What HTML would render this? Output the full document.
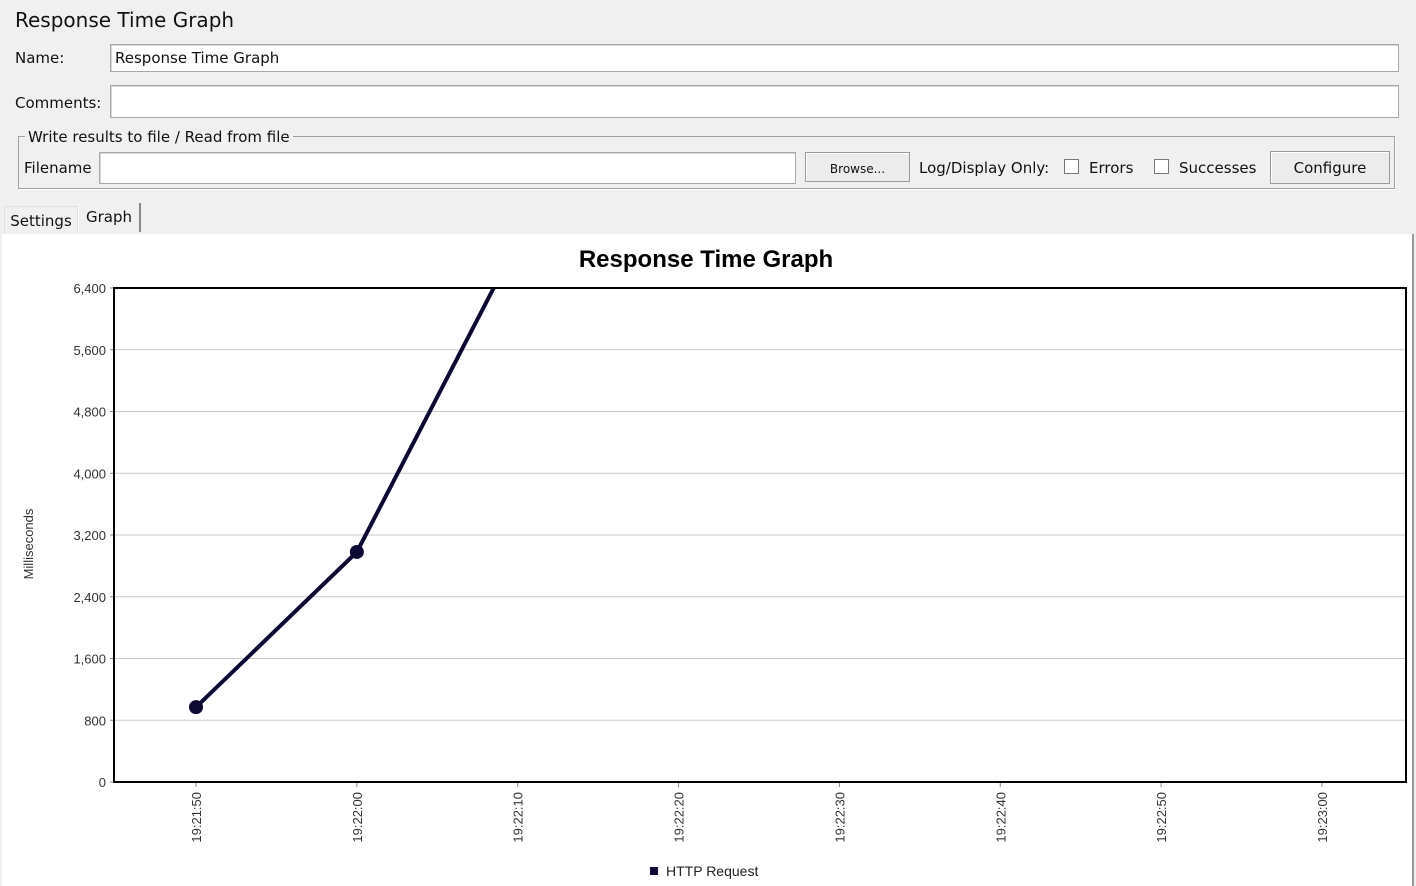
<!DOCTYPE html>
<html><head><meta charset="utf-8"><style>
body{margin:0;width:1416px;height:886px;background:#f0f0f0;font-family:"DejaVu Sans","Liberation Sans",sans-serif;font-size:15px;color:#111;position:relative;overflow:hidden}
.a{position:absolute;white-space:nowrap}
.field{position:absolute;background:#fff;border:1px solid #a8a8a8;box-shadow:inset 1px 1px 0 #d8d8d8}
.btn{position:absolute;background:#ececec;border:1px solid #9a9a9a;box-shadow:inset 1px 1px 0 #fff;text-align:center;box-sizing:border-box}
.cb{position:absolute;width:15px;height:15px;background:#fff;border:1px solid #777;box-sizing:border-box}
</style></head><body>
<div class="a" style="left:15px;top:8px;font-size:20px">Response Time Graph</div>
<div class="a" style="left:15px;top:49px">Name:</div>
<div class="field" style="left:110px;top:44px;width:1287px;height:26px"><span style="position:absolute;left:4px;top:4px">Response Time Graph</span></div>
<div class="a" style="left:15px;top:94px">Comments:</div>
<div class="field" style="left:110px;top:85px;width:1287px;height:31px"></div>
<div style="position:absolute;left:18px;top:136px;width:1375px;height:51px;border:1px solid #a0a0a0;box-shadow:1px 1px 0 #fff"></div>
<div class="a" style="left:25px;top:128px;background:#f0f0f0;padding:0 3px">Write results to file / Read from file</div>
<div class="a" style="left:24px;top:159px">Filename</div>
<div class="field" style="left:99px;top:152px;width:695px;height:30px"></div>
<div class="btn" style="left:805px;top:152px;width:105px;height:30px;font-size:12px;line-height:32px">Browse...</div>
<div class="a" style="left:919px;top:159px">Log/Display Only:</div>
<div class="cb" style="left:1064px;top:159px"></div>
<div class="a" style="left:1089px;top:159px">Errors</div>
<div class="cb" style="left:1154px;top:159px"></div>
<div class="a" style="left:1179px;top:159px">Successes</div>
<div class="btn" style="left:1270px;top:151px;width:120px;height:33px;line-height:33px">Configure</div>
<div class="a" style="left:4px;top:206px;width:72px;height:26px;border:1px solid #e0e0e0;border-bottom:none;text-align:center;line-height:28px">Settings</div>
<div class="a" style="left:78px;top:203px;width:60px;height:29px;background:#f0f0f0;border-left:1px solid #fff;border-right:2px solid #888;text-align:center;line-height:28px">Graph</div>
<svg id="chart" style="position:absolute;left:2px;top:234px" width="1411" height="652"></svg>
<div style="position:absolute;left:1412px;top:234px;width:2px;height:652px;background:#999"></div>
<script>
const categories=["19:21:50","19:22:00","19:22:10","19:22:20","19:22:30","19:22:40","19:22:50","19:23:00"];
const seriesValues=[970,2980,7000];
const yTicks=[0,800,1600,2400,3200,4000,4800,5600,6400];
const yTickLabels=["0","800","1,600","2,400","3,200","4,000","4,800","5,600","6,400"];
const NS="http://www.w3.org/2000/svg",svg=document.getElementById('chart');
const ox=2,oy=234,L=114-ox,R=1406-ox,T=288-oy,B=782-oy,yMax=6400;
const x0=196-ox,dx=160.85;
const X=i=>x0+i*dx, Y=v=>B-(v/yMax)*(B-T);
function el(t,a,txt){const e=document.createElementNS(NS,t);for(const k in a)e.setAttribute(k,a[k]);if(txt!=null)e.textContent=txt;svg.appendChild(e);return e;}
let bg=el('rect',{x:0,y:0,width:1411,height:652,fill:'#fff'});


let t=el('text',{x:704,y:33,'text-anchor':'middle','font-size':24,'font-weight':'bold','font-family':'Liberation Sans, sans-serif'},'Response Time Graph');


yTicks.forEach((v,i)=>{
 if(v>0&&v<yMax){let g=el('line',{x1:L,x2:R,y1:Y(v),y2:Y(v),stroke:'#c8c8c8','stroke-width':1});}
 el('line',{x1:L-4,x2:L,y1:Y(v),y2:Y(v),stroke:'#888'});
 let l=el('text',{x:L-8,y:Y(v)+5,'text-anchor':'end','font-size':13,fill:'#333','font-family':'Liberation Sans, sans-serif'},yTickLabels[i]);
 
 
});
categories.forEach((c,i)=>{
 el('line',{x1:X(i),x2:X(i),y1:B,y2:B+5,stroke:'#888'});
 let l=el('text',{transform:`translate(${X(i)+5},${B+10}) rotate(-90)`,'text-anchor':'end','font-size':13,fill:'#333','font-family':'Liberation Sans, sans-serif'},c);
 
 
});
let yt=el('text',{transform:`translate(31,${(T+B)/2+9}) rotate(-90)`,'text-anchor':'middle','font-size':13,fill:'#333','font-family':'Liberation Sans, sans-serif'},'Milliseconds');


const defs=el('defs',{});const cp=document.createElementNS(NS,'clipPath');cp.setAttribute('id','clip');const cr=document.createElementNS(NS,'rect');
cr.setAttribute('x',L);cr.setAttribute('y',T);cr.setAttribute('width',R-L);cr.setAttribute('height',B-T);cp.appendChild(cr);defs.appendChild(cp);
let line=el('polyline',{points:seriesValues.map((v,i)=>X(i)+','+Y(v)).join(' '),fill:'none',stroke:'#0c0a33','stroke-width':4,'clip-path':'url(#clip)'});


seriesValues.forEach((v,i)=>{let p=el('circle',{cx:X(i),cy:Y(v),r:7,fill:'#0c0a33','clip-path':'url(#clip)'});});
let fr=el('rect',{x:L,y:T,width:R-L,height:B-T,fill:'none',stroke:'#000','stroke-width':2});


let lg=el('rect',{x:648,y:633,width:8,height:8,fill:'#0c0a33'});


let lt=el('text',{x:664,y:642,'font-size':14,fill:'#222','font-family':'Liberation Sans, sans-serif'},'HTTP Request');


</script>
</body></html>
